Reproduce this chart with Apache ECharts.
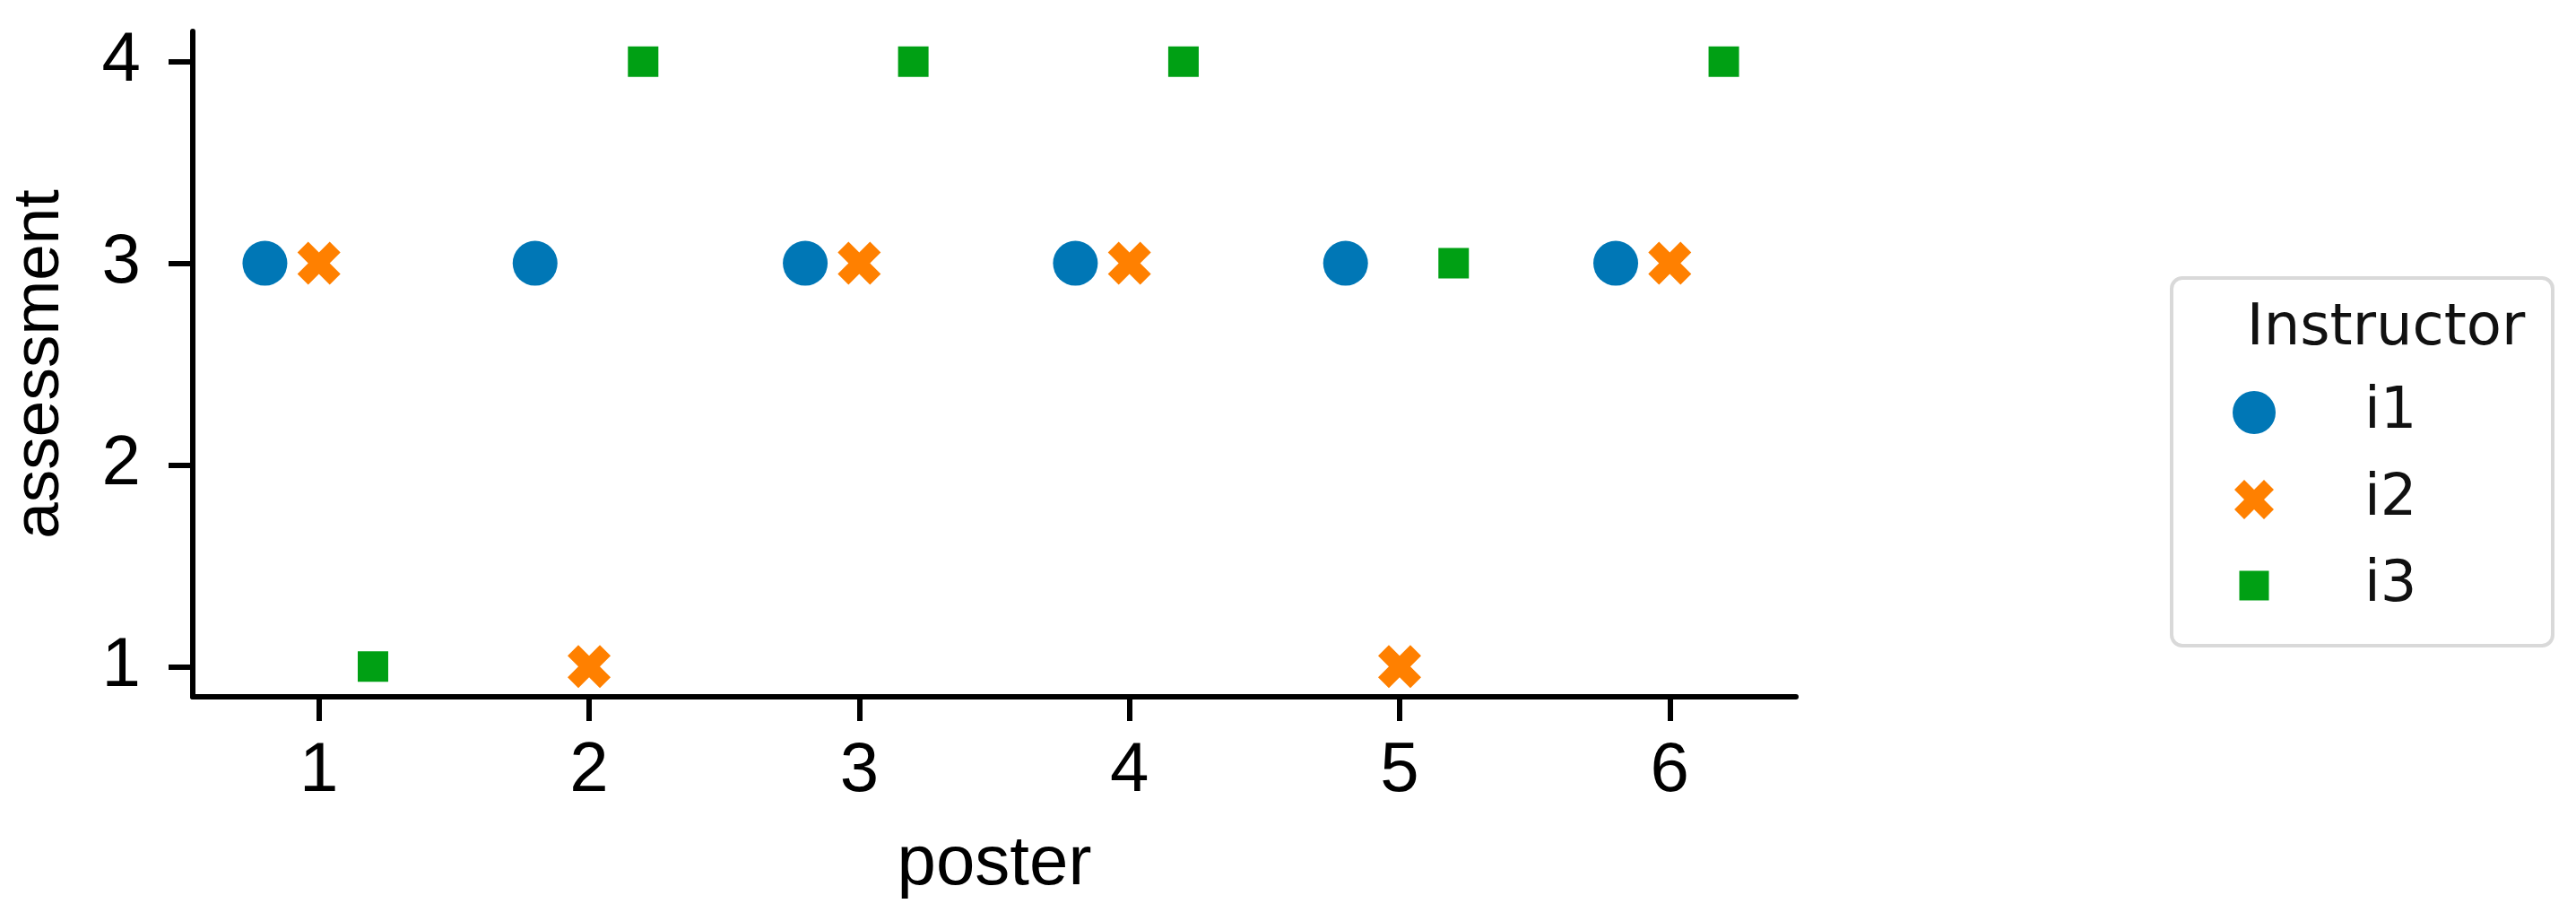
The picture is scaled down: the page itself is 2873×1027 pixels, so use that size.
<!DOCTYPE html>
<html>
<head>
<meta charset="utf-8">
<script src="https://cdn.jsdelivr.net/npm/echarts@6/dist/echarts.min.js"></script>
<style>
html,body{margin:0;padding:0;background:#fff;}
#chart{width:2873px;height:1027px;}
</style>
</head>
<body>
<div id="chart"></div>
<script>
// ---- data ----
const posterTicks = [1, 2, 3, 4, 5, 6];
const assessmentTicks = [1, 2, 3, 4];
const instructors = ['i1', 'i2', 'i3'];
const i1Poster = [0.8, 1.8, 2.8, 3.8, 4.8, 5.8];
const i1Assessment = [3, 3, 3, 3, 3, 3];
const i2Poster = [1, 2, 3, 4, 5, 6];
const i2Assessment = [3, 1, 3, 3, 1, 3];
const i3Poster = [1.2, 2.2, 3.2, 4.2, 5.2, 6.2];
const i3Assessment = [1, 4, 4, 4, 3, 4];
const legendTitle = 'Instructor';
const xName = 'poster';
const yName = 'assessment';

// ---- styles ----
const colors = ['#0077b6', '#ff8000', '#00a014'];
const xPath = 'path://M2,-4L4,-2L2,0L4,2L2,4L0,2L-2,4L-4,2L-2,0L-4,-2L-2,-4L0,-2Z';
const symbols = ['circle', xPath, 'rect'];
const sizes = [50, 48, 34];
const legendIconSizes = [48, 44, 33];
const FONT = '"Liberation Sans", Arial, sans-serif';
const LFONT = '"DejaVu Sans", sans-serif';
const AX_FS = 78;
const YNAME_FS = 73;
const LEG_FS = 64;

function pairs(xs, ys) { return xs.map((x, i) => [x, ys[i]]); }
const seriesData = [pairs(i1Poster, i1Assessment), pairs(i2Poster, i2Assessment), pairs(i3Poster, i3Assessment)];

const chart = echarts.init(document.getElementById('chart'), null, {renderer: 'canvas'});

const legendCenterX = 2514;
const legendTextX = 2637;
const legendRowsY = [460, 557, 653];
const LH = 70;

const legends = instructors.map((name, k) => {
  const s = legendIconSizes[k];
  return {
    orient: 'vertical',
    left: legendCenterX - s / 2,
    top: legendRowsY[k] - LH / 2,
    padding: 0,
    itemWidth: s,
    itemHeight: s,
    data: [{name: name, icon: symbols[k]}],
    selectedMode: false,
    textStyle: {
      fontFamily: LFONT, fontSize: LEG_FS, color: '#111', lineHeight: LH,
      padding: [0, 0, 0, legendTextX - (legendCenterX - s / 2) - s - 5]
    }
  };
});

const option = {
  backgroundColor: '#fff',
  animation: false,
  grid: {left: 211, right: 870, top: 35, bottom: 250, containLabel: false},
  xAxis: {
    type: 'value', min: 0.533, max: 6.467,
    name: xName, nameLocation: 'middle', nameGap: 148,
    nameTextStyle: {fontFamily: FONT, fontSize: AX_FS, color: '#000'},
    axisLine: {show: true, onZero: false, lineStyle: {color: '#000', width: 6}},
    axisTick: {show: true, length: 27, lineStyle: {color: '#000', width: 6}, customValues: posterTicks},
    axisLabel: {fontFamily: FONT, fontSize: AX_FS, color: '#000', margin: 44, customValues: posterTicks},
    splitLine: {show: false}
  },
  yAxis: {
    type: 'value', min: 0.85, max: 4.15,
    name: yName, nameLocation: 'middle', nameGap: 134, nameRotate: 90,
    nameTextStyle: {fontFamily: FONT, fontSize: YNAME_FS, color: '#000'},
    axisLine: {show: true, onZero: false, lineStyle: {color: '#000', width: 6}},
    axisTick: {show: true, length: 27, lineStyle: {color: '#000', width: 6}, customValues: assessmentTicks},
    axisLabel: {fontFamily: FONT, fontSize: AX_FS, color: '#000', margin: 58, customValues: assessmentTicks},
    splitLine: {show: false}
  },
  legend: legends,
  graphic: [
    {type: 'rect', z: -1, shape: {x: 2422, y: 310, width: 425, height: 410, r: 12},
     style: {fill: '#fff', stroke: '#d9d9d9', lineWidth: 4}},
    {type: 'text', style: {x: 2661, y: 367, text: legendTitle, fontFamily: LFONT, fontSize: LEG_FS,
     fill: '#111', textAlign: 'center', textVerticalAlign: 'middle'}}
  ],
  series: instructors.map((name, k) => ({
    name: name, type: 'scatter', data: seriesData[k],
    symbol: symbols[k], symbolSize: sizes[k],
    itemStyle: {color: colors[k], opacity: 1}
  }))
};
chart.setOption(option);
</script>
</body>
</html>
